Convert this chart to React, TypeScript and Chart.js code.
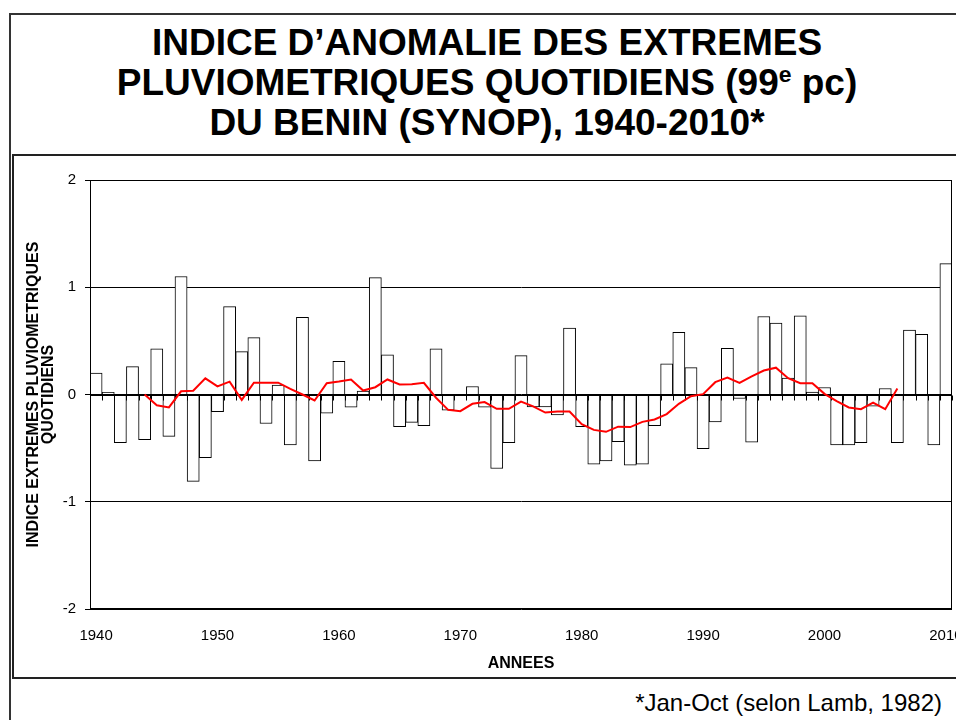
import React, { useEffect, useRef } from 'react';
import { Chart, registerables } from 'chart.js';

Chart.register(...registerables);

const YEARS = [
  '1940', '1941', '1942', '1943', '1944', '1945', '1946', '1947', '1948', '1949',
  '1950', '1951', '1952', '1953', '1954', '1955', '1956', '1957', '1958', '1959',
  '1960', '1961', '1962', '1963', '1964', '1965', '1966', '1967', '1968', '1969',
  '1970', '1971', '1972', '1973', '1974', '1975', '1976', '1977', '1978', '1979',
  '1980', '1981', '1982', '1983', '1984', '1985', '1986', '1987', '1988', '1989',
  '1990', '1991', '1992', '1993', '1994', '1995', '1996', '1997', '1998', '1999',
  '2000', '2001', '2002', '2003', '2004', '2005', '2006', '2007', '2008', '2009',
  '2010',
];

// Annual anomaly index (bars)
const ANOMALY = [
  0.20, 0.02, -0.45, 0.26, -0.42, 0.425, -0.39, 1.10, -0.81, -0.59,
  -0.16, 0.82, 0.40, 0.53, -0.27, 0.087, -0.47, 0.72, -0.62, -0.175,
  0.31, -0.117, 0.031, 1.09, 0.37, -0.30, -0.26, -0.29, 0.425, -0.146,
  0.0, 0.075, -0.117, -0.69, -0.45, 0.363, -0.115, -0.115, -0.19, 0.62,
  -0.30, -0.65, -0.62, -0.44, -0.66, -0.65, -0.29, 0.286, 0.58, 0.25,
  -0.506, -0.255, 0.43, -0.037, -0.444, 0.727, 0.665, 0.152, 0.733, 0.022,
  0.065, -0.469, -0.469, -0.45, -0.109, 0.056, -0.45, 0.60, 0.56, -0.469,
  1.22,
];

// Running mean (red curve), 1944-2006
const RUNNING_MEAN = [
  null, null, null, null, 0.0, -0.10, -0.12, 0.03, 0.035, 0.15,
  0.075, 0.12, -0.05, 0.11, 0.11, 0.11, 0.053, 0.0, -0.056, 0.105,
  0.121, 0.14, 0.037, 0.068, 0.14, 0.093, 0.096, 0.109, -0.03, -0.143,
  -0.155, -0.087, -0.071, -0.134, -0.134, -0.066, -0.11, -0.168, -0.158, -0.158,
  -0.276, -0.33, -0.348, -0.30, -0.304, -0.255, -0.233, -0.183, -0.087, -0.016,
  0.003, 0.115, 0.158, 0.109, 0.17, 0.224, 0.25, 0.152, 0.106, 0.106,
  0.006, -0.062, -0.121, -0.137, -0.075, -0.137, 0.056, null, null, null,
  null,
];

const X_TICK_LABELS = ['1940', '1950', '1960', '1970', '1980', '1990', '2000', '2010'];
const Y_MIN = -2;
const Y_MAX = 2;
const Y_STEP = 1;

const TITLE_LINE_1 = 'INDICE D’ANOMALIE DES EXTREMES';
const TITLE_LINE_2_A = 'PLUVIOMETRIQUES QUOTIDIENS (99';
const TITLE_LINE_2_SUP = 'e';
const TITLE_LINE_2_B = ' pc)';
const TITLE_LINE_3 = 'DU BENIN (SYNOP), 1940-2010*';
const Y_TITLE = ['INDICE EXTREMES PLUVIOMETRIQUES', 'QUOTIDIENS'];
const X_TITLE = 'ANNEES';
const FOOTNOTE = '*Jan-Oct (selon Lamb, 1982)';

const FONT = 'Arial, "Liberation Sans", sans-serif';

const framePlugin = {
  id: 'plotFrame',
  afterDatasetDraw(chart: any, args: any) {
    if (args.index !== 0) return;
    const { ctx, chartArea, scales } = chart;
    const xs = scales.x;
    const ys = scales.y;
    const y0 = Math.round(ys.getPixelForValue(0)) + 0.5;
    const n = chart.data.labels.length;
    const w = xs.width / n;
    ctx.save();
    ctx.strokeStyle = '#000';
    ctx.lineWidth = 1;
    ctx.beginPath();
    ctx.moveTo(chartArea.left, y0);
    ctx.lineTo(chartArea.right, y0);
    for (let k = 0; k <= n; k++) {
      const px = Math.round(xs.left + k * w) + 0.5;
      ctx.moveTo(px, y0);
      ctx.lineTo(px, y0 + 5);
    }
    ctx.stroke();
    const l = Math.round(chartArea.left) + 0.5;
    const t = Math.round(chartArea.top) + 0.5;
    const r = Math.round(chartArea.right) - 0.5;
    const b = Math.round(chartArea.bottom) - 0.5;
    ctx.strokeRect(l, t, r - l, b - t);
    ctx.restore();
  },
};

function AnomalyChart() {
  const ref = useRef<HTMLCanvasElement | null>(null);
  useEffect(() => {
    if (!ref.current) return;
    const chart = new Chart(ref.current, {
      type: 'bar',
      data: {
        labels: YEARS,
        datasets: [
          {
            type: 'bar',
            data: ANOMALY,
            backgroundColor: '#ffffff',
            borderColor: '#000000',
            borderWidth: 1,
            categoryPercentage: 1,
            barPercentage: 1,
            order: 1,
          } as any,
          {
            type: 'line',
            data: RUNNING_MEAN,
            borderColor: '#ff0000',
            borderWidth: 2,
            pointRadius: 0,
            tension: 0,
            spanGaps: false,
            fill: false,
            order: 0,
          } as any,
        ],
      },
      options: {
        responsive: false,
        animation: false,
        devicePixelRatio: 1,
        layout: { padding: { left: 0, top: 24, right: 62, bottom: 0 } },
        plugins: {
          legend: { display: false },
          tooltip: { enabled: false },
          title: { display: false },
        },
        scales: {
          x: {
            type: 'category',
            offset: true,
            grid: { display: false, drawTicks: false },
            border: { display: false },
            ticks: {
              autoSkip: false,
              maxRotation: 0,
              minRotation: 0,
              padding: 18,
              color: '#000',
              font: { family: FONT, size: 15 },
              callback: function (this: any, value: any) {
                const lab = this.getLabelForValue(value);
                return X_TICK_LABELS.includes(lab) ? lab : '';
              },
            },
            title: {
              display: true,
              text: X_TITLE,
              color: '#000',
              font: { family: FONT, size: 16, weight: 'bold' },
              padding: { top: 0, bottom: 4 },
            },
            afterFit: (s: any) => {
              s.height = 68;
            },
          },
          y: {
            min: Y_MIN,
            max: Y_MAX,
            grid: { color: '#000', lineWidth: 1, drawTicks: true, tickLength: 5, tickColor: '#000' },
            border: { display: true, color: '#000', width: 1 },
            ticks: {
              stepSize: Y_STEP,
              padding: 9,
              color: '#000',
              font: { family: FONT, size: 15 },
            },
            title: {
              display: true,
              text: Y_TITLE,
              color: '#000',
              font: { family: FONT, size: 16, weight: 'bold', lineHeight: 0.88 },
              padding: { top: 13, bottom: 0 },
            },
            afterFit: (s: any) => {
              s.width = 76;
            },
          },
        },
      } as any,
      plugins: [framePlugin],
    });
    return () => chart.destroy();
  }, []);
  return <canvas ref={ref} width={1000} height={521} style={{ display: 'block', width: 1000, height: 521 }} />;
}

export default function App() {
  return (
    <div
      style={{
        position: 'fixed',
        left: 0,
        top: 0,
        width: 956,
        height: 720,
        overflow: 'hidden',
        background: '#fff',
        fontFamily: FONT,
        color: '#000',
      }}
    >
      <div
        style={{
          position: 'absolute',
          left: 9,
          top: 13,
          width: 1100,
          height: 1100,
          borderLeft: '2px solid #333',
          borderTop: '2px solid #333',
        }}
      />
      <div
        style={{
          position: 'absolute',
          left: 0,
          top: 23,
          width: 974,
          textAlign: 'center',
          fontWeight: 'bold',
          fontSize: 37,
          lineHeight: '40px',
          whiteSpace: 'nowrap',
        }}
      >
        <div>{TITLE_LINE_1}</div>
        <div>
          {TITLE_LINE_2_A}
          <span style={{ fontSize: '0.62em', position: 'relative', top: '-0.55em', lineHeight: 0 }}>{TITLE_LINE_2_SUP}</span>
          {TITLE_LINE_2_B}
        </div>
        <div>{TITLE_LINE_3}</div>
      </div>
      <div
        style={{
          position: 'absolute',
          left: 12,
          top: 154,
          width: 1100,
          height: 521,
          border: '2px solid #222',
          overflow: 'hidden',
        }}
      >
        <AnomalyChart />
      </div>
      <div
        style={{
          position: 'absolute',
          left: 0,
          top: 689,
          width: 942,
          textAlign: 'right',
          fontSize: 24,
          lineHeight: '28px',
          whiteSpace: 'nowrap',
        }}
      >
        {FOOTNOTE}
      </div>
    </div>
  );
}
